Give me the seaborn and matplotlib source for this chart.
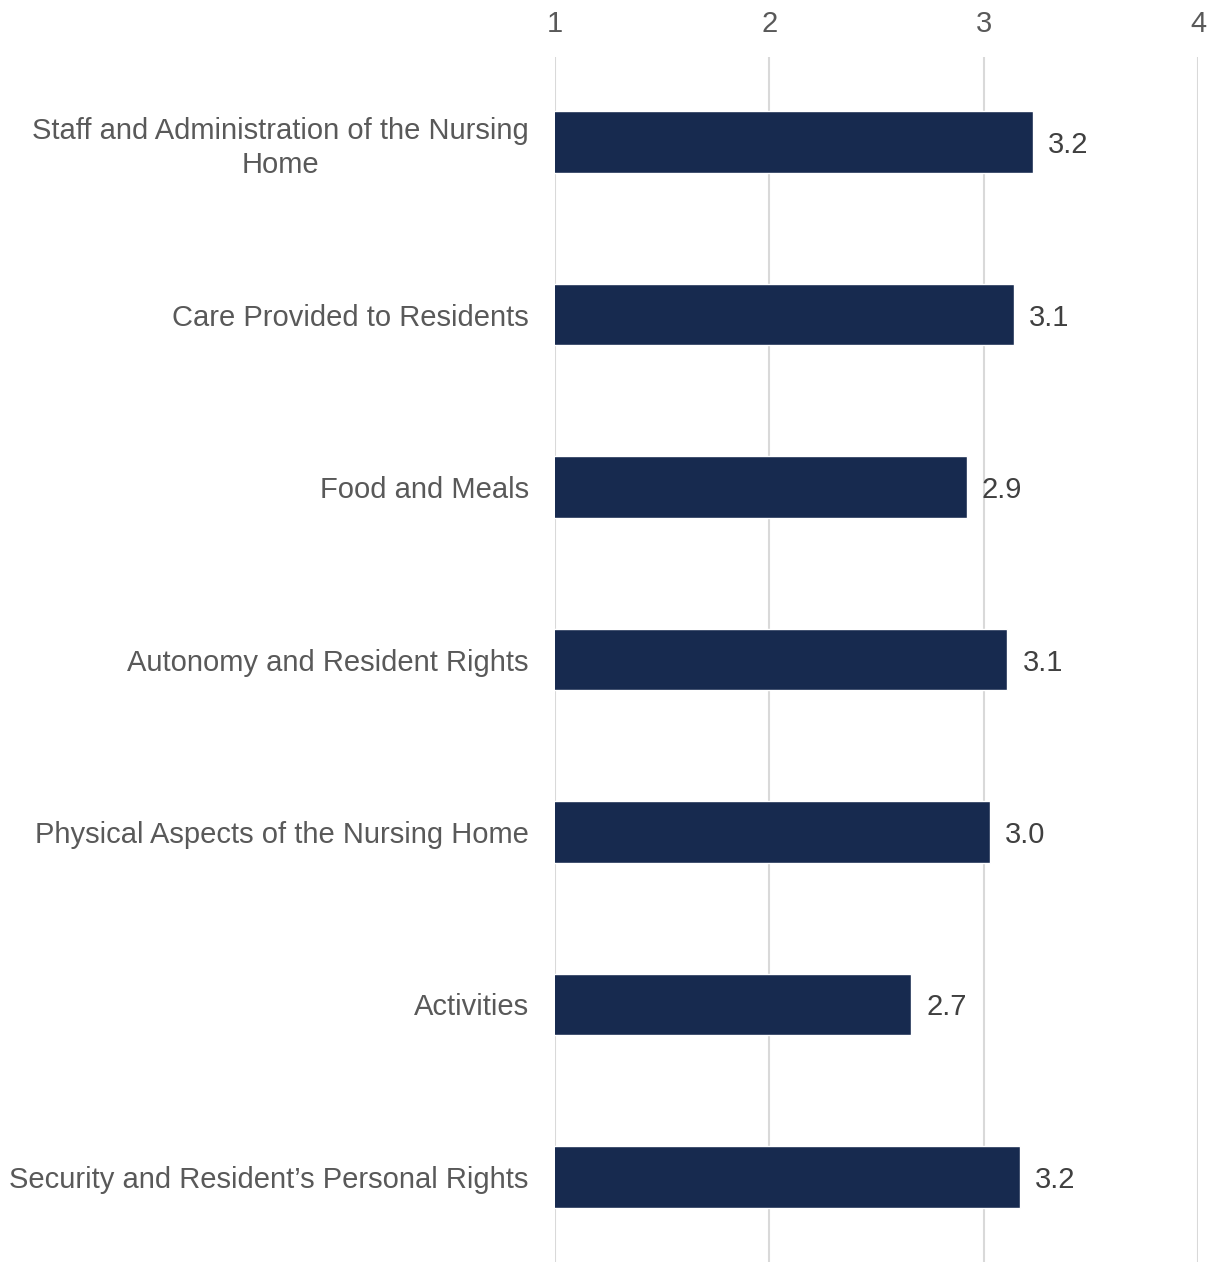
import pandas as pd
import seaborn as sns
import matplotlib.pyplot as plt

# Category labels and mean scores
categories = [
    'Staff and Administration of the Nursing\nHome',
    'Care Provided to Residents',
    'Food and Meals',
    'Autonomy and Resident Rights',
    'Physical Aspects of the Nursing Home',
    'Activities',
    'Security and Resident\u2019s Personal Rights',
]
scores = [3.23, 3.14, 2.92, 3.11, 3.03, 2.66, 3.17]
x_ticks = [1, 2, 3, 4]

df = pd.DataFrame({'category': categories, 'score': scores})

sns.set_style('white')
plt.rcParams['font.family'] = ['Liberation Sans', 'DejaVu Sans']

fig = plt.figure(figsize=(12.14, 12.62), dpi=100)
ax = fig.add_axes([0.4572, 0.0, 0.5296, 0.9548])

sns.barplot(data=df, x='score', y='category', orient='h', color='#172A4F',
            width=0.355, saturation=1, ax=ax)

ax.set_xlim(1, 4)
ax.set_ylim(6.493, -0.493)
ax.set_xticks(x_ticks)
ax.xaxis.tick_top()
ax.tick_params(axis='x', length=0, pad=14, labelsize=21, labelcolor='#595959')
ax.tick_params(axis='y', length=0, pad=19, labelsize=21, labelcolor='#595959')
for lbl in ax.get_yticklabels():
    lbl.set_multialignment('center')
    lbl.set_linespacing(1.25)

ax.grid(axis='x', color='#D9D9D9', linewidth=1.5)
ax.set_axisbelow(True)
for s in ax.spines.values():
    s.set_visible(False)
ax.set_xlabel('')
ax.set_ylabel('')

labels = ax.bar_label(ax.containers[0], fmt='%.1f', padding=11, fontsize=21, color='#404040')
for t in labels:
    t.set_va('center_baseline')

fig.savefig('out.png', dpi=100)
